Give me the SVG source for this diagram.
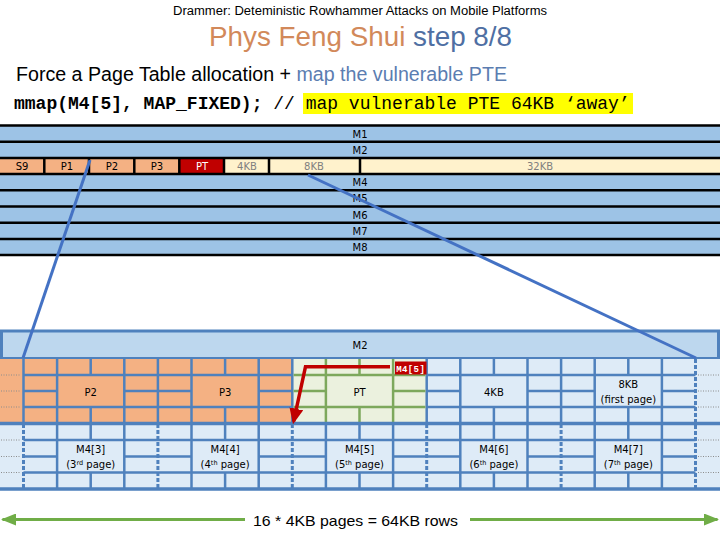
<svg xmlns="http://www.w3.org/2000/svg" width="720" height="540" viewBox="0 0 720 540">
<defs>
<style>
.lbl{font-family:"DejaVu Sans",Verdana,sans-serif;font-size:10px;fill:#000;text-anchor:middle}
.grey{fill:#7F7F7F}
.wht{fill:#fff}
.mrow{fill:#9DC3E6}
.blk{stroke:#000;stroke-width:2.5;fill:none}
.bl{stroke:#4F81BD;stroke-width:2.5;fill:none}
.gr{stroke:#7DA85C;stroke-width:2.5;fill:none}
.dash{stroke:#4F81BD;stroke-width:3;stroke-dasharray:4 2;fill:none}
.dot{stroke:#8C8C8C;stroke-width:1;stroke-dasharray:1 1.5;fill:none}
.conn{stroke:#4472C4;stroke-width:3;fill:none}
</style>
<marker id="redhead" markerWidth="4.5" markerHeight="4" refX="3.7" refY="2" orient="auto" markerUnits="strokeWidth">
<path d="M0,0 L4.5,2 L0,4 Z" fill="#C00000"/>
</marker>
<marker id="greenhead" markerWidth="5" markerHeight="4" refX="4.5" refY="2" orient="auto" markerUnits="strokeWidth">
<path d="M0,0 L5,2 L0,4 Z" fill="#70AD47"/>
</marker>
</defs>
<rect width="720" height="540" fill="#fff"/>

<!-- titles -->
<g id="titles">
<text x="173" y="15" font-family="Liberation Sans,Arial,sans-serif" font-size="12" textLength="374" lengthAdjust="spacingAndGlyphs">Drammer: Deteministic Rowhammer Attacks on Mobile Platforms</text>
<text x="209" y="46" font-family="Liberation Sans,Arial,sans-serif" font-size="28" textLength="303" lengthAdjust="spacingAndGlyphs"><tspan fill="#D2895A">Phys Feng Shui</tspan><tspan fill="#4F6FA3"> step 8/8</tspan></text>
<text x="16" y="81" font-family="Liberation Sans,Arial,sans-serif" font-size="20" textLength="491" lengthAdjust="spacingAndGlyphs"><tspan fill="#000">Force a Page Table allocation + </tspan><tspan fill="#5B7DB1">map the vulnerable PTE</tspan></text>
<rect x="303" y="93" width="330" height="21" fill="#FFFF00"/>
<text x="14" y="109" font-family="Liberation Mono,Courier New,monospace" font-size="18" fill="#000"><tspan font-weight="bold">mmap(M4[5], MAP_FIXED);</tspan><tspan> // map vulnerable PTE 64KB ‘away’</tspan></text>
</g>

<!-- top memory rows -->
<g id="top-rows">
<rect class="mrow" x="0" y="125.5" width="720" height="129.6"/>
<g id="row3">
<rect x="0" y="157.9" width="179.3" height="16.2" fill="#F4B183"/>
<rect x="179.3" y="157.9" width="44.7" height="16.2" fill="#C00000"/>
<rect x="224" y="157.9" width="496" height="16.2" fill="#FFF2CC"/>
<path class="blk" d="M44.3,157.9V174.1M89,157.9V174.1M134.3,157.9V174.1M179.3,157.9V174.1M224,157.9V174.1M269,157.9V174.1M360,157.9V174.1"/>
<text class="lbl" x="22" y="170">S9</text>
<text class="lbl" x="67" y="170">P1</text>
<text class="lbl" x="112" y="170">P2</text>
<text class="lbl" x="157" y="170">P3</text>
<text class="lbl wht" x="202" y="170">PT</text>
<text class="lbl grey" x="247" y="170">4KB</text>
<text class="lbl grey" x="314" y="170">8KB</text>
<text class="lbl grey" x="540" y="170">32KB</text>
</g>
<path class="blk" d="M0,125.5H720M0,141.7H720M0,157.9H720M0,174.1H720M0,190.3H720M0,206.5H720M0,222.7H720M0,238.9H720M0,255.1H720"/>
<text class="lbl" x="360" y="137.5">M1</text>
<text class="lbl" x="360" y="153.7">M2</text>
<text class="lbl" x="360" y="186">M4</text>
<text class="lbl" x="360" y="202.3">M5</text>
<text class="lbl" x="360" y="218.5">M6</text>
<text class="lbl" x="360" y="234.7">M7</text>
<text class="lbl" x="360" y="250.9">M8</text>
</g>

<!-- M2 band -->
<g id="m2-band">
<rect x="1.5" y="331" width="717" height="27.5" fill="#BDD7EE" stroke="#4F81BD" stroke-width="3"/>
<text class="lbl" x="360" y="349">M2</text>
</g>

<!-- grid -->
<g id="grid">
<rect x="0" y="359" width="292.3" height="64.5" fill="#F4B183"/>
<rect x="292.3" y="359" width="134.4" height="64.5" fill="#EBF1DE"/>
<rect x="426.7" y="359" width="293.3" height="64.5" fill="#DEEBF7"/>
<rect x="0" y="423.5" width="720" height="65.5" fill="#DEEBF7"/>
<path class="dot" d="M1,375H21M1,391H21M1,407H21M1,440H21M1,456.5H21M1,472.5H21M698,375H719M698,391H719M698,407H719M698,440H719M698,456.5H719M698,472.5H719"/>
<path class="bl" d="M23.5,375H292.3M426.7,375H695.5M23.5,407H292.3M426.7,407H695.5
M23.5,391H57.1M124.3,391H191.5M258.7,391H292.3M426.7,391H460.3M527.5,391H594.7M661.9,391H695.5
M23.5,359V423.5M57.1,359V423.5M124.3,359V423.5M157.9,359V423.5M191.5,359V423.5M258.7,359V423.5M292.3,359V423.5
M426.7,359V423.5M460.3,359V423.5M527.5,359V423.5M561.1,359V423.5M594.7,359V423.5M661.9,359V423.5
M90.7,359V375M90.7,407V423.5M225.1,359V375M225.1,407V423.5M493.9,359V375M493.9,407V423.5M628.3,359V375M628.3,407V423.5"/>
<path class="gr" d="M293.6,375H425.4M293.6,407H425.4M293.6,391H325.9M393.1,391H425.4
M325.9,359V423.5M393.1,359V423.5M359.5,359V375M359.5,407V423.5"/>
<path class="bl" d="M23.5,440H695.5M23.5,472.5H695.5
M23.5,456.5H57.1M124.3,456.5H191.5M258.7,456.5H325.9M393.1,456.5H460.3M527.5,456.5H594.7M661.9,456.5H695.5
M57.1,423.5V489M124.3,423.5V489M191.5,423.5V489M258.7,423.5V489M325.9,423.5V489M393.1,423.5V489M460.3,423.5V489M527.5,423.5V489M594.7,423.5V489M661.9,423.5V489
M90.7,423.5V440M90.7,472.5V489M225.1,423.5V440M225.1,472.5V489M359.5,423.5V440M359.5,472.5V489M493.9,423.5V440M493.9,472.5V489M628.3,423.5V440M628.3,472.5V489"/>
<path class="dash" d="M23.5,424V489M157.9,424V489M292.3,424V489M426.7,424V489M561.1,424V489M695.5,359V489"/>
<path d="M0,423.5H720M0,489H720" stroke="#4F81BD" stroke-width="3.5" fill="none"/>
</g>

<g id="page-p2"><text class="lbl" x="90.7" y="395.5">P2</text></g>
<g id="page-p3"><text class="lbl" x="225.1" y="395.5">P3</text></g>
<g id="page-pt"><text class="lbl" x="359.5" y="395.5">PT</text></g>
<g id="page-4kb"><text class="lbl" x="493.9" y="395.5">4KB</text></g>
<g id="page-8kb"><text class="lbl" x="628.3" y="388">8KB</text><text class="lbl" x="628.3" y="403">(first page)</text></g>
<g id="m45-tag">
<rect x="395" y="361.5" width="31.5" height="13" fill="#C00000"/>
<text x="410.7" y="371.5" font-family="Liberation Mono,Courier New,monospace" font-size="9" font-weight="bold" fill="#fff" text-anchor="middle" letter-spacing="0.4">M4[5]</text>
</g>

<g id="m4-3"><text class="lbl" x="90.7" y="453">M4[3]</text><text class="lbl" x="90.7" y="468">(3<tspan font-size="6.5" dy="-3.5">rd</tspan><tspan dy="3.5"> page)</tspan></text></g>
<g id="m4-4"><text class="lbl" x="225.1" y="453">M4[4]</text><text class="lbl" x="225.1" y="468">(4<tspan font-size="6.5" dy="-3.5">th</tspan><tspan dy="3.5"> page)</tspan></text></g>
<g id="m4-5"><text class="lbl" x="359.5" y="453">M4[5]</text><text class="lbl" x="359.5" y="468">(5<tspan font-size="6.5" dy="-3.5">th</tspan><tspan dy="3.5"> page)</tspan></text></g>
<g id="m4-6"><text class="lbl" x="493.9" y="453">M4[6]</text><text class="lbl" x="493.9" y="468">(6<tspan font-size="6.5" dy="-3.5">th</tspan><tspan dy="3.5"> page)</tspan></text></g>
<g id="m4-7"><text class="lbl" x="628.3" y="453">M4[7]</text><text class="lbl" x="628.3" y="468">(7<tspan font-size="6.5" dy="-3.5">th</tspan><tspan dy="3.5"> page)</tspan></text></g>

<g id="connectors">
<path class="conn" d="M90,160L23,358"/>
<path class="conn" d="M308,175L696,358"/>
<path d="M390,366.7H305.5L293.6,421.5" stroke="#C00000" stroke-width="3.5" fill="none" marker-end="url(#redhead)"/>
<path d="M245,519.5H2.5" stroke="#70AD47" stroke-width="3" fill="none" marker-end="url(#greenhead)"/>
<path d="M470,519.5H717.5" stroke="#70AD47" stroke-width="3" fill="none" marker-end="url(#greenhead)"/>
</g>
<text x="253" y="526" font-family="Liberation Sans,Arial,sans-serif" font-size="15" fill="#000" textLength="205" lengthAdjust="spacingAndGlyphs">16 * 4KB pages = 64KB rows</text>
</svg>
